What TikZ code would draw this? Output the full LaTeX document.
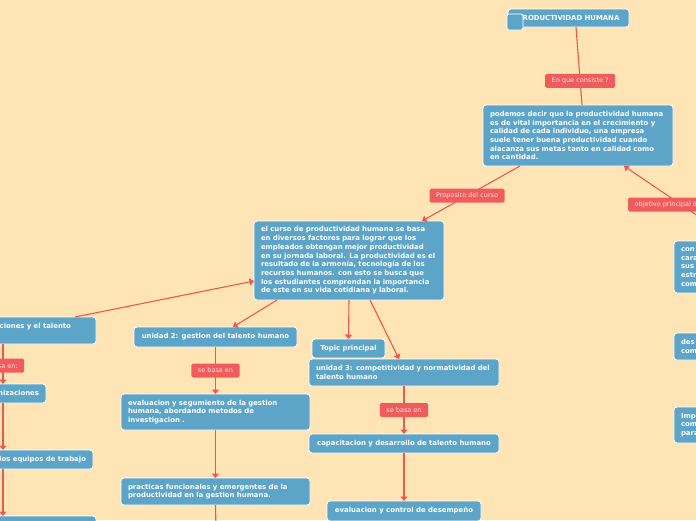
\documentclass[tikz,border=0pt]{standalone}
\usepackage{fontspec}
\setmainfont{DejaVu Sans}
\usetikzlibrary{arrows.meta}
\definecolor{paper}{HTML}{FFE5B6}
\definecolor{topicblue}{HTML}{5DA5C8}
\definecolor{relred}{HTML}{F05C5C}
\definecolor{linkred}{HTML}{EE5656}
\definecolor{reltext}{HTML}{FFE2E2}

\begin{document}
\begin{tikzpicture}[x=1pt,y=-1pt]
  \tikzset{
    topic/.style={draw=white, line width=0.8pt, fill=topicblue, rounded corners=3pt,
      text=white, font=\fontsize{6.9}{8.7}\selectfont\bfseries,
      inner xsep=7pt, inner ysep=0pt, outer sep=0pt, align=left, anchor=north west},
    rel/.style={fill=relred, text=reltext, rounded corners=1.5pt,
      font=\fontsize{6.5}{8}\selectfont, inner xsep=6.5pt, inner ysep=0pt, minimum height=14pt},
    link/.style={draw=linkred, line width=1.1pt},
    linkarrow/.style={link, -{Triangle[length=4.5pt,width=7pt]}}
  }
  \useasboundingbox (0,0) rectangle (696,520);
  \clip (0,0) rectangle (696,520);
  \fill[paper] (0,0) rectangle (696,520);

  % main topic
  \node[topic, minimum width=121pt, minimum height=18pt, align=center] (root) at (508,9) {PRODUCTIVIDAD HUMANA};
  \node[topic, minimum size=16pt, rounded corners=2pt] (marker) at (507,14) {};

  \node[topic, text width=176pt, minimum height=61pt] (podemos) at (483,105)
    {podemos decir que la productividad humana\\es de vital importancia en el crecimiento y\\calidad de cada individuo, una empresa\\suele tener buena productividad cuando\\alacanza sus metas tanto en calidad como\\en cantidad.};
  \node[topic, text width=176pt, minimum height=79pt] (curso) at (254,221)
    {el curso de productividad humana se basa\\en diversos factores para lograr que los\\empleados obtengan mejor productividad\\en su jornada laboral. La productividad es el\\resultado de la armonía, tecnología de los\\recursos humanos. con esto se busca que\\los estudiantes comprendan la importancia\\de este en su vida cotidiana y laboral.};

  % left branch
  \node[topic, text width=123pt, minimum height=27pt] (organiz) at (-41,317) {organizaciones y el talento\\\mbox{}};
  \node[topic, anchor=north east, minimum height=19pt] (orgbase) at (46,384) {organizaciones};
  \node[topic, anchor=north east, minimum height=19pt] (equipos) at (93,450) {los equipos de trabajo};
  \node[topic, anchor=north east, minimum width=130pt, minimum height=20pt] (leftnext) at (96,516) {};
  \coordinate (leftline) at (3,0);

  % unidad 2
  \node[topic, minimum width=163pt, minimum height=20pt] (unidad2) at (134,327) {unidad 2: gestion del talento humano};
  \node[topic, text width=175pt, minimum height=36pt] (seguimiento) at (121,394)
    {evaluacion y segumiento de la gestion\\humana, abordando metodos de\\investigacion .};
  \node[topic, text width=175pt, minimum height=27pt] (practicas) at (121,478)
    {practicas funcionales y emergentes de la\\productividad en la gestion humana.};
  \coordinate (practicasnext) at (216,530);

  % unidad 3
  \node[topic, minimum width=73pt, minimum height=19pt] (topicp) at (312,339) {Topic principal};
  \node[topic, text width=176pt, minimum height=27pt] (unidad3) at (309,359)
    {unidad 3: competitividad y normatividad del\\talento humano};
  \node[topic, minimum width=190pt, minimum height=19pt] (capacitacion) at (309,434) {capacitacion y desarrollo de talento humano};
  \node[topic, minimum width=154pt, minimum height=20pt] (desempeno) at (327,501) {evaluacion y control de desempeño};

  % right branch
  \node[topic, text width=60pt, minimum height=52pt] (conocer) at (674,241) {con\\cara\\sus\\estr\\com};
  \node[topic, text width=60pt, minimum height=27pt] (describir) at (674,333) {des\\com};
  \node[topic, text width=60pt, minimum height=36pt] (importancia) at (674,407) {Imp\\com\\para};
  \coordinate (objsrc) at (766,262);

  % connectors
  \draw[link] ([xshift=7.5pt]root.south) -- node[rel, pos=0.69] (consiste) {En que consiste ?} ([xshift=4pt]podemos.north);
  \draw[linkarrow] ([xshift=-58pt]podemos.south) -- node[rel, pos=0.54] (proposito) {Proposito del curso} ([xshift=73pt]curso.north);
  \draw[linkarrow] (objsrc) -- ([xshift=46pt]podemos.south);
  \node[rel, anchor=west] (objetivo) at (628,204.5) {objetivo principal de};

  \draw[linkarrow] ([xshift=47.5pt]organiz.north) -- ([yshift=-20.5pt]curso.west);
  \draw[linkarrow] ([xshift=-72pt]curso.south) -- ([xshift=17.5pt]unidad2.north);
  \draw[linkarrow] (curso.south) -- (topicp.north);
  \draw[linkarrow] ([xshift=21pt]curso.south) -- ([xshift=-5pt]unidad3.north);

  \draw[linkarrow] (organiz.south -| leftline) -- node[rel, pos=0.54, xshift=-4pt] (basaleft) {se basa en:} (orgbase.north -| leftline);
  \draw[linkarrow] (orgbase.south -| leftline) -- (equipos.north -| leftline);
  \draw[linkarrow] (equipos.south -| leftline) -- (leftnext.north -| leftline);

  \draw[linkarrow] (unidad2.south) -- node[rel] (basados) {se basa en} (seguimiento.north);
  \draw[linkarrow] (seguimiento.south) -- (practicas.north);
  \draw[link] (practicas.south) -- (practicasnext);

  \draw[linkarrow] (unidad3.south) -- node[rel] (basatres) {se basa en} (capacitacion.north);
  \draw[linkarrow] (capacitacion.south) -- (desempeno.north);
\end{tikzpicture}
\end{document}
